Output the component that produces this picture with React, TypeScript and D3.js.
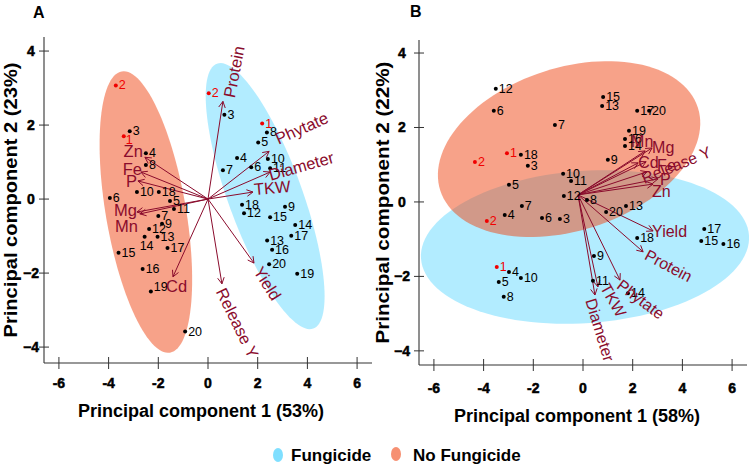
import React from "react";
import * as d3 from "d3";

// ---------- DATA ----------
// Panel A (PC1 53%, PC2 23%)
const noFungA = [
  { id: "2", pc1: -3.71, pc2: 3.07 },
  { id: "1", pc1: -3.39, pc2: 1.7 },
  { id: "3", pc1: -3.15, pc2: 1.83 },
  { id: "4", pc1: -2.5, pc2: 1.24 },
  { id: "8", pc1: -2.5, pc2: 0.92 },
  { id: "6", pc1: -3.95, pc2: 0.03 },
  { id: "10", pc1: -2.86, pc2: 0.19 },
  { id: "18", pc1: -1.98, pc2: 0.19 },
  { id: "5", pc1: -1.53, pc2: -0.05 },
  { id: "11", pc1: -1.37, pc2: -0.27 },
  { id: "7", pc1: -2.0, pc2: -0.46 },
  { id: "12", pc1: -2.37, pc2: -0.81 },
  { id: "9", pc1: -1.85, pc2: -0.67 },
  { id: "14", pc1: -2.55, pc2: -1.02 },
  { id: "13", pc1: -2.03, pc2: -1.02 },
  { id: "17", pc1: -1.63, pc2: -1.32 },
  { id: "15", pc1: -3.6, pc2: -1.45 },
  { id: "16", pc1: -2.63, pc2: -1.89 },
  { id: "19", pc1: -2.3, pc2: -2.5 },
  { id: "20", pc1: -0.92, pc2: -3.58 },
];
const fungA = [
  { id: "2", pc1: 0.03, pc2: 2.86 },
  { id: "3", pc1: 0.66, pc2: 2.28 },
  { id: "1", pc1: 2.18, pc2: 2.04 },
  { id: "8", pc1: 2.37, pc2: 1.8 },
  { id: "5", pc1: 2.02, pc2: 1.53 },
  { id: "10", pc1: 2.41, pc2: 1.08 },
  { id: "4", pc1: 1.17, pc2: 1.11 },
  { id: "6", pc1: 1.74, pc2: 0.86 },
  { id: "7", pc1: 0.6, pc2: 0.78 },
  { id: "11", pc1: 2.5, pc2: 0.83 },
  { id: "18", pc1: 1.37, pc2: -0.15 },
  { id: "12", pc1: 1.45, pc2: -0.38 },
  { id: "15", pc1: 2.5, pc2: -0.49 },
  { id: "9", pc1: 3.1, pc2: -0.21 },
  { id: "14", pc1: 3.51, pc2: -0.7 },
  { id: "17", pc1: 3.35, pc2: -0.99 },
  { id: "13", pc1: 2.38, pc2: -1.12 },
  { id: "16", pc1: 2.58, pc2: -1.37 },
  { id: "20", pc1: 2.46, pc2: -1.76 },
  { id: "19", pc1: 3.59, pc2: -2.02 },
];
const loadingsA = [
  { name: "Protein", pc1: 0.6, pc2: 2.64 },
  { name: "Phytate", pc1: 2.46, pc2: 1.29 },
  { name: "Diameter", pc1: 2.5, pc2: 0.73 },
  { name: "TKW", pc1: 1.81, pc2: 0.19 },
  { name: "Yield", pc1: 1.85, pc2: -1.73 },
  { name: "Release Y", pc1: 0.56, pc2: -2.29 },
  { name: "Cd", pc1: -1.41, pc2: -2.1 },
  { name: "Zn", pc1: -2.54, pc2: 1.13 },
  { name: "Fe", pc1: -2.7, pc2: 0.73 },
  { name: "P", pc1: -2.82, pc2: 0.49 },
  { name: "Mg", pc1: -2.86, pc2: -0.35 },
  { name: "Mn", pc1: -2.74, pc2: -0.4 },
];
const originA = [0, 0];

// Panel B (PC1 58%, PC2 22%)
const noFungB = [
  { id: "12", pc1: -3.51, pc2: 3.04 },
  { id: "6", pc1: -3.59, pc2: 2.45 },
  { id: "15", pc1: 0.81, pc2: 2.82 },
  { id: "13", pc1: 0.77, pc2: 2.58 },
  { id: "17", pc1: 2.18, pc2: 2.45 },
  { id: "20", pc1: 2.66, pc2: 2.45 },
  { id: "7", pc1: -1.13, pc2: 2.07 },
  { id: "19", pc1: 1.85, pc2: 1.91 },
  { id: "16", pc1: 1.69, pc2: 1.69 },
  { id: "14", pc1: 1.69, pc2: 1.5 },
  { id: "1", pc1: -3.06, pc2: 1.31 },
  { id: "18", pc1: -2.5, pc2: 1.27 },
  { id: "2", pc1: -4.35, pc2: 1.07 },
  { id: "3", pc1: -2.22, pc2: 0.97 },
  { id: "9", pc1: 1.0, pc2: 1.13 },
  { id: "10", pc1: -0.8, pc2: 0.76 },
  { id: "11", pc1: -0.48, pc2: 0.56 },
  { id: "5", pc1: -2.98, pc2: 0.46 },
  { id: "8", pc1: 0.16, pc2: 0.05 },
  { id: "4", pc1: -3.15, pc2: -0.35 },
];
const fungB = [
  { id: "12", pc1: -0.77, pc2: 0.16 },
  { id: "7", pc1: -2.46, pc2: -0.11 },
  { id: "2", pc1: -3.87, pc2: -0.51 },
  { id: "6", pc1: -1.65, pc2: -0.43 },
  { id: "3", pc1: -0.93, pc2: -0.46 },
  { id: "20", pc1: 0.93, pc2: -0.27 },
  { id: "13", pc1: 1.73, pc2: -0.11 },
  { id: "18", pc1: 2.18, pc2: -0.97 },
  { id: "17", pc1: 4.88, pc2: -0.73 },
  { id: "15", pc1: 4.76, pc2: -1.05 },
  { id: "16", pc1: 5.65, pc2: -1.13 },
  { id: "9", pc1: 0.44, pc2: -1.45 },
  { id: "1", pc1: -3.47, pc2: -1.75 },
  { id: "4", pc1: -2.98, pc2: -1.88 },
  { id: "10", pc1: -2.5, pc2: -2.04 },
  { id: "5", pc1: -3.39, pc2: -2.15 },
  { id: "8", pc1: -3.19, pc2: -2.55 },
  { id: "11", pc1: 0.4, pc2: -2.12 },
  { id: "14", pc1: 1.81, pc2: -2.45 },
];
const loadingsB = [
  { name: "Mn", pc1: 2.5, pc2: 1.37 },
  { name: "Mg", pc1: 2.78, pc2: 1.45 },
  { name: "Cd", pc1: 2.22, pc2: 1.05 },
  { name: "Fe", pc1: 2.54, pc2: 1.08 },
  { name: "Release Y", pc1: 2.58, pc2: 0.81 },
  { name: "P", pc1: 3.02, pc2: 0.62 },
  { name: "Zn", pc1: 2.82, pc2: 0.48 },
  { name: "Yield", pc1: 2.82, pc2: -0.78 },
  { name: "Protein", pc1: 2.42, pc2: -1.34 },
  { name: "Phytate", pc1: 1.49, pc2: -2.1 },
  { name: "TKW", pc1: 0.6, pc2: -2.28 },
  { name: "Diameter", pc1: 0.48, pc2: -2.5 },
];
const originB = [-0.2, 0.19];

// Group ellipses: centre, major semi-axis vector, minor semi-axis vector (data units)
const ellNoFungA = { c: [-2.5, -0.35], a: [-0.97, 3.8], b: [1.59, 0.18] };
const ellFungA = { c: [2.3, 0.08], a: [-1.94, 3.58], b: [1.4, 0.34] };
const ellNoFungB = { c: [-0.56, 1.42], a: [5.18, 1.12], b: [-1.02, 2.08] };
const ellFungB = { c: [0.08, -1.21], a: [6.6, 0.31], b: [-0.21, 2.04] };

const xTicks = [-6, -4, -2, 0, 2, 4, 6];
const xTickLabels = ["-6", "-4", "-2", "0", "2", "4", "6"];
const yTicks = [-4, -2, 0, 2, 4];
const yTickLabels = ["\u22124", "\u22122", "0", "2", "4"];
const legendLabels = ["Fungicide", "No Fungicide"];

// ---------- STYLE / LAYOUT ----------
const VAR_COLOR = "#8a0b2c";
const BLUE = "rgb(0,191,255)";
const ORANGE = "rgb(240,70,20)";
const FONT = "'Liberation Sans', Arial, sans-serif";
const NARROW = "'Liberation Sans Narrow', 'Arial Narrow', 'Liberation Sans', Arial, sans-serif";

type LabelSpec = { dx: number; dy: number; angle: number; anchor: string };
const varLabelA: Record<string, LabelSpec> = {
  Protein: { dx: 6, dy: -4, angle: -79, anchor: "start" },
  Phytate: { dx: 7, dy: -12, angle: -24, anchor: "start" },
  Diameter: { dx: -1, dy: 3, angle: -16, anchor: "start" },
  TKW: { dx: 1, dy: -3, angle: -5, anchor: "start" },
  Yield: { dx: 4, dy: 5, angle: 58, anchor: "start" },
  "Release Y": { dx: -1, dy: 5, angle: 64, anchor: "start" },
  Cd: { dx: -7, dy: 9.5, angle: 0, anchor: "start" },
  Zn: { dx: -2, dy: -6, angle: 0, anchor: "end" },
  Fe: { dx: 1, dy: -3, angle: 0, anchor: "end" },
  P: { dx: -1, dy: 0.5, angle: 0, anchor: "end" },
  Mg: { dx: 0, dy: -2, angle: 0, anchor: "end" },
  Mn: { dx: -2, dy: 12.5, angle: 0, anchor: "end" },
};
const varLabelB: Record<string, LabelSpec> = {
  Mn: { dx: -14, dy: -9, angle: 0, anchor: "start" },
  Mg: { dx: 0, dy: 0, angle: 0, anchor: "start" },
  Cd: { dx: 0, dy: -0.5, angle: 0, anchor: "start" },
  Fe: { dx: 11, dy: 4, angle: 0, anchor: "start" },
  "Release Y": { dx: -5, dy: 7, angle: -22, anchor: "start" },
  P: { dx: 2, dy: 1, angle: 0, anchor: "start" },
  Zn: { dx: -1, dy: 7.5, angle: 0, anchor: "start" },
  Yield: { dx: -1, dy: 0.5, angle: 0, anchor: "start" },
  Protein: { dx: 3, dy: 2, angle: 28, anchor: "start" },
  Phytate: { dx: -1, dy: 3, angle: 37, anchor: "start" },
  TKW: { dx: 6.5, dy: -2, angle: 60, anchor: "start" },
  Diameter: { dx: -4.5, dy: 4, angle: 73, anchor: "start" },
};
const pointNudge: Record<string, [number, number, string]> = {
  "A-nf-14": [2, 9, "middle"],
  "A-nf-19": [3, -5, "start"],
  "A-nf-1": [2, 4, "start"],
};

type Pt = { id: string; pc1: number; pc2: number };
type Ld = { name: string; pc1: number; pc2: number };
type Ell = { c: number[]; a: number[]; b: number[] };

function ellipsePath(e: Ell, x: any, y: any) {
  const ts = d3.range(0, 361, 3).map((d) => (d * Math.PI) / 180);
  const line = d3
    .line<number>()
    .x((t) => x(e.c[0] + Math.cos(t) * e.a[0] + Math.sin(t) * e.b[0]))
    .y((t) => y(e.c[1] + Math.cos(t) * e.a[1] + Math.sin(t) * e.b[1]))
    .curve(d3.curveLinearClosed);
  return line(ts) || "";
}

type PanelProps = {
  key2: string;
  letter: string;
  letterPos: [number, number];
  xLim: number[];
  yLim: number[];
  xRange: number[];
  yRange: number[];
  nf: Pt[];
  f: Pt[];
  ld: Ld[];
  origin: number[];
  ellNF: Ell;
  ellF: Ell;
  labels: Record<string, LabelSpec>;
  varFont: number;
  xTitle: string;
  yTitle: string;
  xTitleY: number;
  yTitleX: number;
  yTitleLen: number;
  xLabelDy: number;
  yLabelDx: number;
};

function Panel(p: PanelProps) {
  const x = d3.scaleLinear().domain(p.xLim).range(p.xRange);
  const y = d3.scaleLinear().domain(p.yLim).range(p.yRange);
  const axY = y(p.yLim[0]);
  const axX = x(p.xLim[0]);
  const ox = x(p.origin[0]);
  const oy = y(p.origin[1]);
  const pts = [
    ...p.nf.map((d) => ({ ...d, g: "nf" })),
    ...p.f.map((d) => ({ ...d, g: "f" })),
  ];
  const yMid = (y(p.yLim[0]) + y(p.yLim[1])) / 2;
  return (
    <g>
      <text x={p.letterPos[0]} y={p.letterPos[1]} fontFamily={FONT} fontWeight="bold" fontSize={16}>
        {p.letter}
      </text>
      <path d={ellipsePath(p.ellF, x, y)} fill={BLUE} fillOpacity={0.3} />
      <path d={ellipsePath(p.ellNF, x, y)} fill={ORANGE} fillOpacity={0.5} />
      {/* axes */}
      <line x1={axX} x2={x(p.xLim[1])} y1={axY} y2={axY} stroke="#333" strokeWidth={1.1} />
      <line x1={axX} x2={axX} y1={axY} y2={y(p.yLim[1])} stroke="#333" strokeWidth={1.1} />
      {xTicks.map((t, i) => (
        <g key={"xt" + i}>
          <line x1={x(t)} x2={x(t)} y1={axY - 6} y2={axY + 6} stroke="#333" strokeWidth={1} />
          <text x={x(t)} y={axY + p.xLabelDy} textAnchor="middle" fontFamily={NARROW} fontWeight="bold" fontSize={14} stroke="#000" strokeWidth={0.5}>
            {xTickLabels[i]}
          </text>
        </g>
      ))}
      {yTicks.map((t, i) => (
        <g key={"yt" + i}>
          <line x1={axX - 5} x2={axX + 5} y1={y(t)} y2={y(t)} stroke="#333" strokeWidth={1} />
          <text x={axX + p.yLabelDx} y={y(t)} textAnchor="middle" dominantBaseline="central" fontFamily={NARROW} fontWeight="bold" fontSize={14} stroke="#000" strokeWidth={0.5}>
            {yTickLabels[i]}
          </text>
        </g>
      ))}
      <text x={(x(p.xLim[0]) + x(p.xLim[1])) / 2 + (p.letter === "A" ? -7 : -6)} y={p.xTitleY} textAnchor="middle" fontFamily={FONT} fontWeight="bold" fontSize={18}>
        {p.xTitle}
      </text>
      <text
        transform={`translate(${p.yTitleX},${yMid}) rotate(-90)`}
        textAnchor="middle"
        fontFamily={FONT}
        fontWeight="bold"
        fontSize={19}
        textLength={p.yTitleLen}
        lengthAdjust="spacingAndGlyphs"
      >
        {p.yTitle}
      </text>
      {/* arrows */}
      {p.ld.map((d) => {
        const tx = x(d.pc1);
        const ty = y(d.pc2);
        const ang = Math.atan2(ty - oy, tx - ox);
        const hl = 7;
        const ha = (28 * Math.PI) / 180;
        const h1 = [tx - hl * Math.cos(ang - ha), ty - hl * Math.sin(ang - ha)];
        const h2 = [tx - hl * Math.cos(ang + ha), ty - hl * Math.sin(ang + ha)];
        return (
          <g key={"ar" + d.name} stroke={VAR_COLOR} strokeWidth={1} fill="none">
            <line x1={ox} y1={oy} x2={tx} y2={ty} />
            <polyline points={`${h1[0]},${h1[1]} ${tx},${ty} ${h2[0]},${h2[1]}`} />
          </g>
        );
      })}
      {/* points */}
      {pts.map((d, i) => {
        const px = x(d.pc1);
        const py = y(d.pc2);
        const red = d.id === "1" || d.id === "2";
        const n = pointNudge[`${p.key2}-${d.g}-${d.id}`] || [3, 0, "start"];
        return (
          <g key={"pt" + i}>
            <circle cx={px} cy={py} r={2} fill={red ? "#f00000" : "#000"} />
            <text
              x={px + n[0]}
              y={py + n[1]}
              textAnchor={n[2]}
              dominantBaseline="central"
              fontFamily={FONT}
              fontSize={12.5}
              fill={red ? "#f00000" : "#000"}
            >
              {d.id}
            </text>
          </g>
        );
      })}
      {/* variable labels */}
      {p.ld.map((d) => {
        const s = p.labels[d.name];
        const lx = x(d.pc1) + s.dx;
        const ly = y(d.pc2) + s.dy;
        return (
          <text
            key={"vl" + d.name}
            transform={`translate(${lx},${ly}) rotate(${s.angle})`}
            textAnchor={s.anchor}
            dominantBaseline="central"
            fontFamily={FONT}
            fontSize={p.varFont}
            fill={VAR_COLOR}
          >
            {d.name}
          </text>
        );
      })}
    </g>
  );
}

export default function App() {
  return (
    <svg width={750} height={471} style={{ position: "absolute", left: 0, top: 0, background: "#fff" }}>
      <rect width={750} height={471} fill="#fff" />
      <Panel
        key2="A"
        letter="A"
        letterPos={[33, 18]}
        xLim={[-6.6, 6.6]}
        yLim={[-4.43, 4.38]}
        xRange={[44, 372]}
        yRange={[363, 37]}
        nf={noFungA}
        f={fungA}
        ld={loadingsA}
        origin={originA}
        ellNF={ellNoFungA}
        ellF={ellFungA}
        labels={varLabelA}
        varFont={16.5}
        xTitle="Principal component 1 (53%)"
        yTitle="Principal component 2 (23%)"
        xTitleY={417}
        yTitleX={17}
        yTitleLen={275}
        xLabelDy={25}
        yLabelDx={-13}
      />
      <Panel
        key2="B"
        letter="B"
        letterPos={[410, 17]}
        xLim={[-6.6, 6.6]}
        yLim={[-4.38, 4.35]}
        xRange={[419, 747]}
        yRange={[365, 40]}
        nf={noFungB}
        f={fungB}
        ld={loadingsB}
        origin={originB}
        ellNF={ellNoFungB}
        ellF={ellFungB}
        labels={varLabelB}
        varFont={16}
        xTitle="Principal component 1 (58%)"
        yTitle="Principal component 2 (22%)"
        xTitleY={422}
        yTitleX={389}
        yTitleLen={282}
        xLabelDy={28}
        yLabelDx={-17}
      />
      {/* legend */}
      <ellipse cx={278} cy={455} rx={5} ry={7} fill={BLUE} fillOpacity={0.5} />
      <text x={291} y={461} fontFamily={FONT} fontWeight="bold" fontSize={17}>
        {legendLabels[0]}
      </text>
      <ellipse cx={396} cy={454} rx={5} ry={7} fill={ORANGE} fillOpacity={0.6} />
      <text x={413} y={461} fontFamily={FONT} fontWeight="bold" fontSize={17}>
        {legendLabels[1]}
      </text>
    </svg>
  );
}
